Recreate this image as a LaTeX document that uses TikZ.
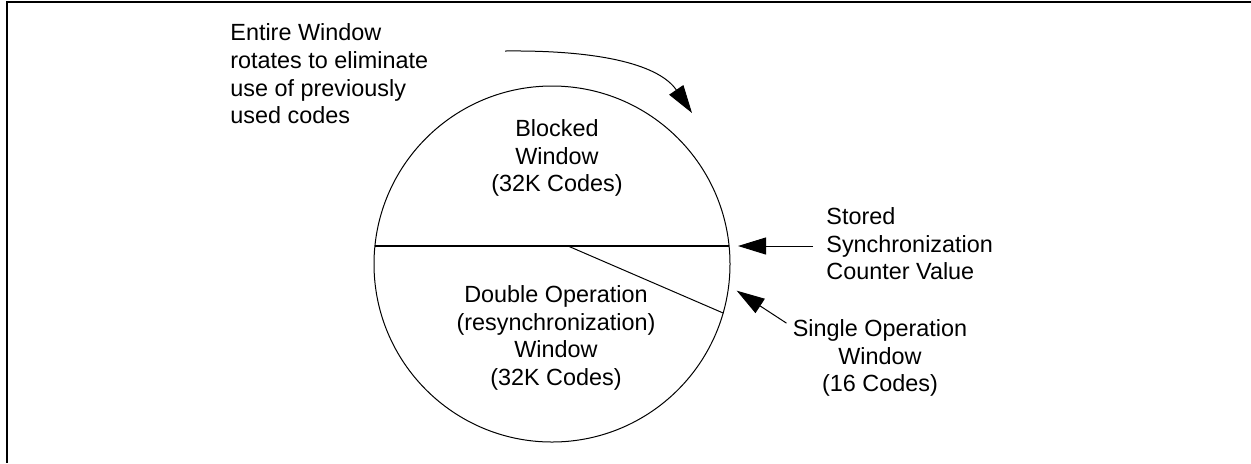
\documentclass[tikz,border=0pt]{standalone}
\usepackage{fontspec}
\setmainfont{Liberation Sans}
\usetikzlibrary{arrows.meta}

\begin{document}
\begin{tikzpicture}[
    x=0.5pt, y=-0.5pt,
    label/.style={inner sep=3pt, align=center, font=\fontsize{11.7}{13.8}\selectfont},
    arr/.style={-{Triangle[length=14pt, width=8.5pt]}, line width=0.5pt}]
\useasboundingbox (0,0) rectangle (1251,463);
% frame (only top and left edges)
\draw[line width=1pt] (1251,2) -| (7,463);
% the code window
\node[circle, draw, line width=0.5pt, minimum size=178pt, inner sep=0] (win) at (552,264) {};
\coordinate (chordL) at (375,246);
\coordinate (chordR) at (729,246);
\coordinate (split) at (568,246);
\draw[line width=1pt] (chordL) -- (chordR);
\draw[line width=0.5pt] (split) -- (win.-16);
\node[label] (blocked) at (557,158) {Blocked\\Window\\(32K Codes)};
\node[label] (double) at (556,338) {Double Operation\\(resynchronization)\\Window\\(32K Codes)};
% notes
\node[label, align=left, anchor=west] (entire) at (224,74) {Entire Window\\rotates to eliminate\\use of previously\\used codes};
\node[label, align=left, anchor=west] (stored) at (820,244) {Stored\\Synchronization\\Counter Value};
\node[label] (single) at (880,358) {Single Operation\\Window\\(16 Codes)};
\coordinate (rotS) at (505,51);
\coordinate (rotE) at (692,113);
\draw[arr] (rotS) .. controls (605,50) and (660,66) .. (rotE);
\draw[arr, shorten <=3.5pt, shorten >=4.5pt] (stored.west |- chordR) -- (chordR);
\draw[arr, shorten >=4.5pt] ([yshift=-5pt]single.north west) -- (win.-7);
\end{tikzpicture}
\end{document}
